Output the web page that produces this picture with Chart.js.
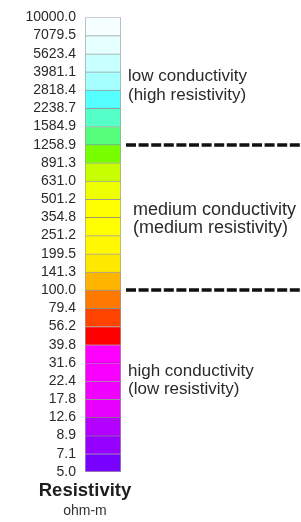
<!DOCTYPE html>
<html lang="en">
<head>
    <meta charset="UTF-8">
    <title>Resistivity scale</title>
    <script src="https://cdn.jsdelivr.net/npm/chart.js"></script>
    <style>
        body {
            margin: 0;
            padding: 0;
            background-color: #fff;
        }
        canvas {
            display: block;
        }
    </style>
</head>
<body>
    <canvas id="scale" width="301" height="522"></canvas>

    <script>
        // tick labels, top to bottom (ohm-m)
        const tickLabels = [
            '10000.0', '7079.5', '5623.4', '3981.1', '2818.4', '2238.7', '1584.9',
            '1258.9', '891.3', '631.0', '501.2', '354.8', '251.2', '199.5', '141.3',
            '100.0', '79.4', '56.2', '39.8', '31.6', '22.4', '17.8', '12.6', '8.9',
            '7.1', '5.0'
        ];
        // one colour per band, top to bottom
        const bandColors = [
            '#f6ffff', '#e6ffff', '#c8ffff', '#a6ffff', '#55ffff', '#55ffc8', '#55ff7c',
            '#77ff00', '#c8ff00', '#eeff00', '#ffff00', '#ffff00', '#fff800', '#ffe800',
            '#ffb400', '#ff7800', '#ff4400', '#ff0000', '#ff00ff', '#f800ff', '#f000ff',
            '#e800ff', '#b400ff', '#9600ff', '#7800ff'
        ];
        // every band has the same height on the bar
        const bandHeights = bandColors.map(() => 1);
        // dashed dividers sit on these tick labels
        const dividers = ['1258.9', '100.0'];
        const zoneTexts = [
            ['low conductivity', '(high resistivity)'],
            ['medium conductivity', '(medium resistivity)'],
            ['high conductivity', '(low resistivity)']
        ];

        const nBands = bandColors.length;
        const font = "'Liberation Sans', Arial, sans-serif";

        // stacked from the bottom up
        const datasets = [];
        for (let i = nBands - 1; i >= 0; i--) {
            datasets.push({
                data: [bandHeights[i]],
                backgroundColor: bandColors[i],
                borderColor: 'rgba(0,0,0,0.38)',
                borderWidth: 1,
                borderSkipped: i === nBands - 1 ? false : 'start',
                barPercentage: 1,
                categoryPercentage: 1
            });
        }

        const valueOf = label => nBands - tickLabels.indexOf(label);

        const zonePlugin = {
            id: 'zones',
            afterDraw(chart) {
                const ctx = chart.ctx;
                const y = chart.scales.y;
                const area = chart.chartArea;
                ctx.save();

                // dividers
                ctx.strokeStyle = '#111';
                ctx.lineWidth = 3.5;
                ctx.setLineDash([10, 2.6]);
                dividers.forEach(d => {
                    const py = Math.round(y.getPixelForValue(valueOf(d)));
                    ctx.beginPath();
                    ctx.moveTo(area.right + 5, py);
                    ctx.lineTo(chart.width, py);
                    ctx.stroke();
                });
                ctx.setLineDash([]);

                // zone texts
                const spots = [
                    { v: 21.5, x: 128, size: 17 },
                    { v: 14.15, x: 133, size: 18 },
                    { v: 5.3, x: 128, size: 17 }
                ];
                ctx.fillStyle = '#2a2a2a';
                ctx.textAlign = 'left';
                ctx.textBaseline = 'alphabetic';
                zoneTexts.forEach((lines, i) => {
                    const s = spots[i];
                    ctx.font = s.size + 'px ' + font;
                    const py = y.getPixelForValue(s.v);
                    lines.forEach((t, j) => ctx.fillText(t, s.x, py + j * 18.5));
                });

                // axis title under the bar
                const cx = area.left;
                ctx.textAlign = 'center';
                ctx.fillStyle = '#1e1e1e';
                ctx.font = 'bold 18.5px ' + font;
                ctx.fillText('Resistivity', cx, area.bottom + 24);
                ctx.fillStyle = '#333';
                ctx.font = '14px ' + font;
                ctx.fillText('ohm-m', cx, area.bottom + 43);
                ctx.restore();
            }
        };

        new Chart(document.getElementById('scale'), {
            type: 'bar',
            data: {
                labels: ['resistivity'],
                datasets: datasets
            },
            options: {
                responsive: false,
                animation: false,
                layout: {
                    padding: { top: 14, bottom: 50, left: 0, right: 180 }
                },
                scales: {
                    x: {
                        display: false,
                        stacked: true
                    },
                    y: {
                        stacked: true,
                        min: 0,
                        max: nBands,
                        afterFit(scale) { scale.width = 85; },
                        border: { display: false },
                        grid: { display: false, drawTicks: false },
                        ticks: {
                            stepSize: 1,
                            autoSkip: false,
                            padding: 9,
                            color: '#2a2a2a',
                            font: { family: font, size: 14 },
                            callback: v => tickLabels[nBands - v]
                        }
                    }
                },
                plugins: {
                    legend: { display: false },
                    tooltip: { enabled: false }
                }
            },
            plugins: [zonePlugin]
        });
    </script>
</body>
</html>
